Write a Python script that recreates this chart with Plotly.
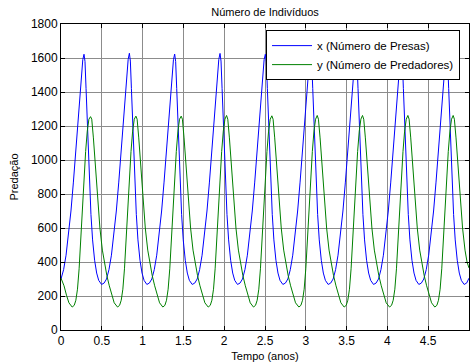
import plotly.graph_objects as go

# ---- data (time in years, population counts) ----
prey_t = [
    0.000, 0.032, 0.062, 0.092, 0.122, 0.152, 0.182, 0.212, 0.242, 0.267, 0.282, 0.294, 0.307, 0.327, 0.347, 0.367, 0.387, 0.412, 0.437, 0.462,
    0.497, 0.528, 0.558, 0.588, 0.618, 0.648, 0.678, 0.708, 0.738, 0.768, 0.798, 0.823, 0.838, 0.850, 0.863, 0.883, 0.903, 0.923, 0.943, 0.968, 0.993, 1.018,
    1.052, 1.083, 1.113, 1.143, 1.173, 1.203, 1.233, 1.263, 1.293, 1.323, 1.353, 1.378, 1.393, 1.405, 1.418, 1.438, 1.458, 1.478, 1.498, 1.523, 1.548, 1.573,
    1.608, 1.639, 1.669, 1.699, 1.729, 1.759, 1.789, 1.819, 1.849, 1.879, 1.909, 1.934, 1.949, 1.961, 1.974, 1.994, 2.014, 2.034, 2.054, 2.079, 2.104, 2.129,
    2.163, 2.194, 2.224, 2.254, 2.284, 2.314, 2.344, 2.374, 2.404, 2.434, 2.464, 2.489, 2.504, 2.516, 2.529, 2.549, 2.569, 2.589, 2.609, 2.634, 2.659, 2.684,
    2.719, 2.750, 2.780, 2.810, 2.840, 2.870, 2.900, 2.930, 2.960, 2.990, 3.020, 3.045, 3.060, 3.072, 3.085, 3.105, 3.125, 3.145, 3.165, 3.190, 3.215, 3.240,
    3.274, 3.305, 3.335, 3.365, 3.395, 3.425, 3.455, 3.485, 3.515, 3.545, 3.575, 3.600, 3.615, 3.627, 3.640, 3.660, 3.680, 3.700, 3.720, 3.745, 3.770, 3.795,
    3.830, 3.861, 3.891, 3.921, 3.951, 3.981, 4.011, 4.041, 4.071, 4.101, 4.131, 4.156, 4.171, 4.183, 4.196, 4.216, 4.236, 4.256, 4.276, 4.301, 4.326, 4.351,
    4.385, 4.416, 4.446, 4.476, 4.506, 4.536, 4.566, 4.596, 4.626, 4.656, 4.686, 4.711, 4.726, 4.738, 4.751, 4.771, 4.791, 4.811, 4.831, 4.856, 4.881, 4.906,
    4.940, 4.971, 5.000,
]
prey_v = [
    300, 355, 440, 560, 700, 870, 1060, 1260, 1450, 1590, 1622, 1580, 1420, 1150, 890, 680, 530, 410, 335, 292,
    268, 276, 300, 355, 440, 560, 700, 870, 1060, 1260, 1450, 1592, 1628, 1582, 1420, 1150, 890, 680, 530, 410, 335, 292,
    268, 276, 300, 355, 440, 560, 700, 870, 1060, 1260, 1450, 1590, 1623, 1580, 1420, 1150, 890, 680, 530, 410, 335, 292,
    268, 276, 300, 355, 440, 560, 700, 870, 1060, 1260, 1450, 1592, 1627, 1582, 1420, 1150, 890, 680, 530, 410, 335, 292,
    268, 276, 300, 355, 440, 560, 700, 870, 1060, 1260, 1450, 1590, 1622, 1580, 1420, 1150, 890, 680, 530, 410, 335, 292,
    268, 276, 300, 355, 440, 560, 700, 870, 1060, 1260, 1450, 1592, 1626, 1582, 1420, 1150, 890, 680, 530, 410, 335, 292,
    268, 276, 300, 355, 440, 560, 700, 870, 1060, 1260, 1450, 1590, 1621, 1580, 1420, 1150, 890, 680, 530, 410, 335, 292,
    268, 276, 300, 355, 440, 560, 700, 870, 1060, 1260, 1450, 1592, 1627, 1582, 1420, 1150, 890, 680, 530, 410, 335, 292,
    268, 276, 300, 355, 440, 560, 700, 870, 1060, 1260, 1450, 1590, 1624, 1580, 1420, 1150, 890, 680, 530, 410, 335, 292,
    268, 276, 305,
]

pred_t = [
    0.000, 0.037, 0.067, 0.097,
    0.137, 0.162, 0.182, 0.202, 0.222, 0.242, 0.262, 0.282, 0.302, 0.322, 0.342, 0.362, 0.377, 0.397, 0.422, 0.447, 0.477, 0.507, 0.532, 0.562, 0.592, 0.622, 0.652,
    0.693, 0.718, 0.738, 0.758, 0.778, 0.798, 0.818, 0.838, 0.858, 0.878, 0.898, 0.918, 0.933, 0.953, 0.978, 1.003, 1.033, 1.063, 1.088, 1.118, 1.148, 1.178, 1.208,
    1.248, 1.273, 1.293, 1.313, 1.333, 1.353, 1.373, 1.393, 1.413, 1.433, 1.453, 1.473, 1.488, 1.508, 1.533, 1.558, 1.588, 1.618, 1.643, 1.673, 1.703, 1.733, 1.763,
    1.804, 1.829, 1.849, 1.869, 1.889, 1.909, 1.929, 1.949, 1.969, 1.989, 2.009, 2.029, 2.044, 2.064, 2.089, 2.114, 2.144, 2.174, 2.199, 2.229, 2.259, 2.289, 2.319,
    2.359, 2.384, 2.404, 2.424, 2.444, 2.464, 2.484, 2.504, 2.524, 2.544, 2.564, 2.584, 2.599, 2.619, 2.644, 2.669, 2.699, 2.729, 2.754, 2.784, 2.814, 2.844, 2.874,
    2.915, 2.940, 2.960, 2.980, 3.000, 3.020, 3.040, 3.060, 3.080, 3.100, 3.120, 3.140, 3.155, 3.175, 3.200, 3.225, 3.255, 3.285, 3.310, 3.340, 3.370, 3.400, 3.430,
    3.470, 3.495, 3.515, 3.535, 3.555, 3.575, 3.595, 3.615, 3.635, 3.655, 3.675, 3.695, 3.710, 3.730, 3.755, 3.780, 3.810, 3.840, 3.865, 3.895, 3.925, 3.955, 3.985,
    4.026, 4.051, 4.071, 4.091, 4.111, 4.131, 4.151, 4.171, 4.191, 4.211, 4.231, 4.251, 4.266, 4.286, 4.311, 4.336, 4.366, 4.396, 4.421, 4.451, 4.481, 4.511, 4.541,
    4.581, 4.606, 4.626, 4.646, 4.666, 4.686, 4.706, 4.726, 4.746, 4.766, 4.786, 4.806, 4.821, 4.841, 4.866, 4.891, 4.921, 4.951, 4.976, 5.000,
]
pred_v = [
    305, 260, 205, 160,
    135, 145, 175, 240, 360, 540, 730, 900, 1050, 1170, 1240, 1255, 1240, 1130, 950, 790, 600, 470, 400, 320, 260, 205, 160,
    135, 145, 175, 240, 360, 540, 730, 900, 1050, 1170, 1240, 1258, 1240, 1130, 950, 790, 600, 470, 400, 320, 260, 205, 160,
    135, 145, 175, 240, 360, 540, 730, 900, 1050, 1170, 1240, 1258, 1240, 1130, 950, 790, 600, 470, 400, 320, 260, 205, 160,
    135, 145, 175, 240, 360, 540, 730, 900, 1050, 1170, 1240, 1262, 1240, 1130, 950, 790, 600, 470, 400, 320, 260, 205, 160,
    135, 145, 175, 240, 360, 540, 730, 900, 1050, 1170, 1240, 1260, 1240, 1130, 950, 790, 600, 470, 400, 320, 260, 205, 160,
    135, 145, 175, 240, 360, 540, 730, 900, 1050, 1170, 1240, 1262, 1240, 1130, 950, 790, 600, 470, 400, 320, 260, 205, 160,
    135, 145, 175, 240, 360, 540, 730, 900, 1050, 1170, 1240, 1262, 1240, 1130, 950, 790, 600, 470, 400, 320, 260, 205, 160,
    135, 145, 175, 240, 360, 540, 730, 900, 1050, 1170, 1240, 1262, 1240, 1130, 950, 790, 600, 470, 400, 320, 260, 205, 160,
    135, 145, 175, 240, 360, 540, 730, 900, 1050, 1170, 1240, 1262, 1240, 1130, 950, 790, 600, 470, 400, 365,
]

x_ticks = [0, 0.5, 1, 1.5, 2, 2.5, 3, 3.5, 4, 4.5, 5]
x_tick_labels = ["0", "0.5", "1", "1.5", "2", "2.5", "3", "3.5", "4", "4.5", "5"]
y_ticks = [0, 200, 400, 600, 800, 1000, 1200, 1400, 1600, 1800]

title_text = "Número de Indivíduos"
x_title = "Tempo (anos)"
y_title = "Predação"
name_prey = "x (Número de Presas)"
name_pred = "y (Número de Predadores)"

FONT = "Liberation Sans, Arial, sans-serif"

fig = go.Figure()
fig.add_trace(go.Scatter(x=prey_t, y=prey_v, mode="lines", name=name_prey,
                         line=dict(color="#0000ff", width=1)))
fig.add_trace(go.Scatter(x=pred_t, y=pred_v, mode="lines", name=name_pred,
                         line=dict(color="#008000", width=1)))

axis_common = dict(
    showline=True, linecolor="black", linewidth=1, mirror="ticks",
    ticks="inside", ticklen=4, tickcolor="black",
    showgrid=True, gridcolor="#8c8c8c", gridwidth=1,
    zeroline=False, automargin=False,
    tickfont=dict(family=FONT, size=12, color="black"),
)

fig.update_layout(
    width=471, height=364,
    margin=dict(l=61, r=2, t=24, b=34),
    paper_bgcolor="white", plot_bgcolor="white",
    font=dict(family=FONT, size=12, color="black"),
    title=dict(text=title_text, x=0.5, xref="paper", xanchor="center",
               y=1 - 12 / 364, yref="container", yanchor="middle",
               font=dict(family=FONT, size=11, color="black")),
    xaxis=dict(range=[0, 5], tickvals=x_ticks, ticktext=x_tick_labels,
               title=dict(text=x_title, standoff=4, font=dict(family=FONT, size=11)),
               **axis_common),
    yaxis=dict(range=[0, 1800], tickvals=y_ticks,
               title=dict(text=y_title, standoff=10, font=dict(family=FONT, size=11)),
               **axis_common),
    legend=dict(x=0.978, y=0.98, xanchor="right", yanchor="top",
                bgcolor="white", bordercolor="black", borderwidth=1,
                font=dict(family=FONT, size=11.5, color="black"),
                tracegroupgap=0, itemwidth=40),
    showlegend=True,
)

fig.write_html("out.html", config={"displayModeBar": False},
               post_script="document.body.style.margin='0px';document.body.style.padding='0px';")
